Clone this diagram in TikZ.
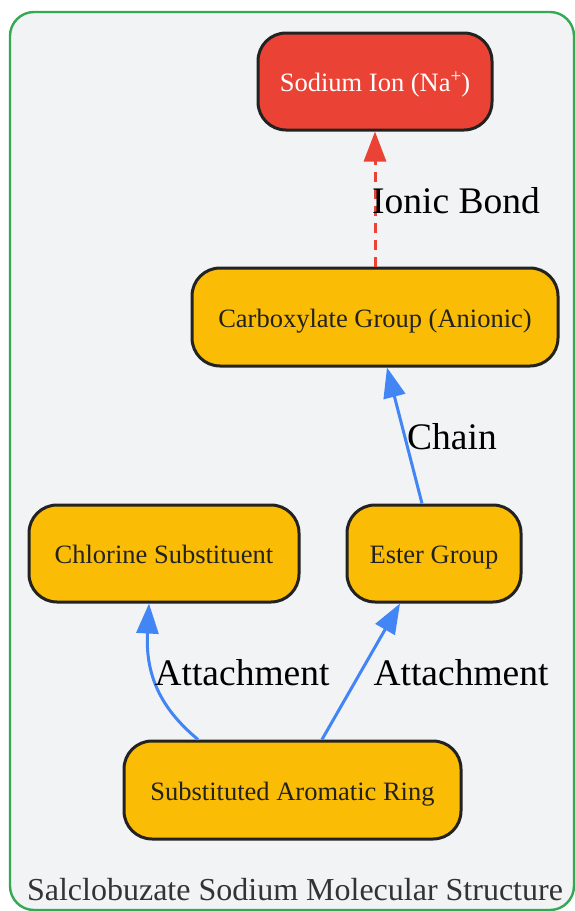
\documentclass[tikz,border=0pt]{standalone}
\usepackage{fontspec}
\setmainfont{Liberation Serif}
\usetikzlibrary{arrows.meta}
\definecolor{framegreen}{HTML}{34A853}
\definecolor{framefill}{HTML}{F1F3F5}
\definecolor{nodered}{HTML}{EA4335}
\definecolor{nodeyellow}{HTML}{FBBC05}
\definecolor{edgeblue}{HTML}{4285F4}
\definecolor{darkborder}{HTML}{222222}
\definecolor{titlegray}{HTML}{333333}
\tikzset{
  box/.style={draw=darkborder, line width=3pt, rounded corners=28pt, fill=nodeyellow,
    text=darkborder, font=\fontsize{26.5}{30}\selectfont, inner sep=0pt, align=center,
    text height=26pt, text depth=5.6pt},
  redbox/.style={box, fill=nodered, text=white},
  conn/.style={line width=3pt, draw=edgeblue, -{Triangle[length=30pt,width=22pt]}},
  ionic/.style={line width=3pt, draw=nodered, dash pattern=on 10pt off 7pt,
    -{Triangle[length=30pt,width=22pt]}},
  elabel/.style={font=\fontsize{37.5}{44}\selectfont, text=black, inner sep=0pt}
}
\begin{document}
\begin{tikzpicture}[x=1pt,y=-1pt]
\useasboundingbox (0,0) rectangle (575,911);
\draw[draw=framegreen, fill=framefill, line width=2.4pt, rounded corners=24pt]
  (10,12) rectangle (574,910);
\node[titlegray, font=\fontsize{32}{38}\selectfont, anchor=base] (title) at (295,900) {Salclobuzate Sodium Molecular Structure};

\node[redbox, minimum width=234pt, minimum height=97pt] (na) at (375,81.5) {Sodium Ion (Na\raisebox{0.33em}{\fontsize{19}{22}\selectfont +})};
\node[box, minimum width=366pt, minimum height=98pt] (carb) at (375,317) {Carboxylate Group (Anionic)};
\node[box, minimum width=270pt, minimum height=97pt] (chlor) at (164,553.5) {Chlorine Substituent};
\node[box, minimum width=174pt, minimum height=97pt] (ester) at (434,553.5) {Ester Group};
\node[box, minimum width=337pt, minimum height=98pt] (arom) at (292.5,790) {Substituted Aromatic Ring};

\draw[ionic] (carb.north) -- (na.south);
\node[elabel] (lionic) at (456,201) {Ionic Bond};

\draw[conn] ([xshift=-12pt]ester.north) -- ([xshift=12pt]carb.south);
\node[elabel] (lchain) at (452,437) {Chain};

\draw[conn] ([xshift=-94.5pt]arom.north) .. controls (165,712) and (145,680) .. ([xshift=-15pt]chlor.south);
\node[elabel] (latt1) at (242,673) {Attachment};

\draw[conn] ([xshift=29.5pt]arom.north) -- ([xshift=-34pt]ester.south);
\node[elabel] (latt2) at (461,673) {Attachment};
\end{tikzpicture}
\end{document}
